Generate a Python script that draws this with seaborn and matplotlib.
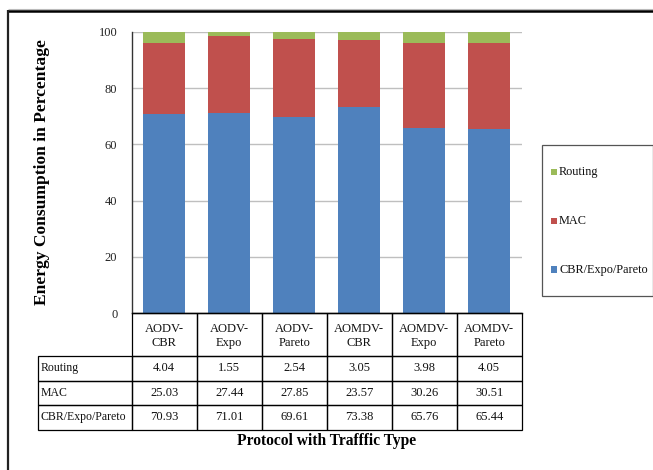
import matplotlib
matplotlib.use("Agg")
import matplotlib.pyplot as plt
from matplotlib.patches import Rectangle
import pandas as pd
import seaborn as sns

# ---- data -------------------------------------------------------------
protocols = ["AODV-\nCBR", "AODV-\nExpo", "AODV-\nPareto",
             "AOMDV-\nCBR", "AOMDV-\nExpo", "AOMDV-\nPareto"]
series_names = ["Routing", "MAC", "CBR/Expo/Pareto"]
routing = [4.04, 1.55, 2.54, 3.05, 3.98, 4.05]
mac = [25.03, 27.44, 27.85, 23.57, 30.26, 30.51]
traffic = [70.93, 71.01, 69.61, 73.38, 65.76, 65.44]
yticks = [0, 20, 40, 60, 80, 100]

colors = {"Routing": "#9BBB59", "MAC": "#C0504D", "CBR/Expo/Pareto": "#4F81BD"}

# ---- style ------------------------------------------------------------
sns.set_theme(style="white")
plt.rcParams["font.family"] = ["Liberation Serif", "DejaVu Serif"]

W, H = 653, 470
fig = plt.figure(figsize=(W / 100, H / 100), dpi=100)


def fx(px):
    return px / W


def fy(py):
    return 1 - py / H


# plot area (pixel geometry)
ax_l, ax_r, ax_t, ax_b = 131.7, 521.7, 31.7, 313.3
ax = fig.add_axes([fx(ax_l), fy(ax_b), fx(ax_r - ax_l), (ax_b - ax_t) / H])

df = pd.DataFrame({"protocol": protocols, "Routing": routing,
                   "MAC": mac, "CBR/Expo/Pareto": traffic})
df["lower"] = df["CBR/Expo/Pareto"]
df["middle"] = df["lower"] + df["MAC"]
df["upper"] = df["middle"] + df["Routing"]

# stacked bars: draw the cumulative totals from the top segment down
for col, name in [("upper", "Routing"), ("middle", "MAC"), ("lower", "CBR/Expo/Pareto")]:
    sns.barplot(data=df, x="protocol", y=col, color=colors[name], saturation=1,
                width=0.65, linewidth=0, ax=ax, zorder=2)

ax.set_xlim(-0.5, len(protocols) - 0.5)
ax.set_ylim(0, 100)
ax.set_yticks(yticks)
ax.set_yticklabels([str(t) for t in yticks])
ax.set_xticks([])
ax.set_xlabel("")
ax.set_ylabel("")
ax.yaxis.grid(True, color="#BFBFBF", linewidth=1.0, zorder=0)
ax.xaxis.grid(False)
ax.set_axisbelow(True)
for s in ["top", "right"]:
    ax.spines[s].set_visible(False)
ax.spines["left"].set_color("#333333")
ax.spines["left"].set_linewidth(1.0)
ax.spines["bottom"].set_color("black")
ax.spines["bottom"].set_linewidth(1.0)
ax.tick_params(axis="y", length=3.3, width=0.8, color="#8C8C8C", pad=7,
               labelsize=9, labelcolor="#222222")

# ---- overlay in pixel coordinates: data table, legend, outer frame -----
ov = fig.add_axes([0, 0, 1, 1], zorder=5)
ov.set_xlim(0, W)
ov.set_ylim(H, 0)
ov.axis("off")
ov.patch.set_visible(False)

col_edges = [ax_l + i * (ax_r - ax_l) / len(protocols) for i in range(len(protocols) + 1)]
row_edges = [ax_b, 356.0, 380.5, 405.0, 429.5]
label_left = 38.3
lw_tab = 0.9
fs_tab = 9

# header row with protocol / traffic names
for i, name in enumerate(protocols):
    x0, x1 = col_edges[i], col_edges[i + 1]
    ov.add_patch(Rectangle((x0, row_edges[0]), x1 - x0, row_edges[1] - row_edges[0],
                           fill=False, edgecolor="black", linewidth=lw_tab))
    ov.text((x0 + x1) / 2, (row_edges[0] + row_edges[1]) / 2 + 1, name,
            ha="center", va="center", fontsize=fs_tab, linespacing=1.2, color="#111111")

# value rows, top to bottom: Routing, MAC, CBR/Expo/Pareto
row_values = [routing, mac, traffic]
for r, (name, vals) in enumerate(zip(series_names, row_values)):
    y0, y1 = row_edges[r + 1], row_edges[r + 2]
    ov.add_patch(Rectangle((label_left, y0), col_edges[0] - label_left, y1 - y0,
                           fill=False, edgecolor="black", linewidth=lw_tab))
    ov.text(label_left + 2.0, (y0 + y1) / 2, name, ha="left", va="center",
            fontsize=8.5, color="#111111")
    for i, v in enumerate(vals):
        x0, x1 = col_edges[i], col_edges[i + 1]
        ov.add_patch(Rectangle((x0, y0), x1 - x0, y1 - y0,
                               fill=False, edgecolor="black", linewidth=lw_tab))
        ov.text((x0 + x1) / 2, (y0 + y1) / 2, f"{v:.2f}", ha="center", va="center",
                fontsize=fs_tab, color="#111111")

# legend box
lg_l, lg_t, lg_r, lg_b = 541.5, 145.0, 652.5, 296.0
ov.add_patch(Rectangle((lg_l, lg_t), lg_r - lg_l, lg_b - lg_t, facecolor="white",
                       edgecolor="#555555", linewidth=0.9))
for name, yc in zip(series_names, [172.0, 221.0, 269.5]):
    ov.add_patch(Rectangle((551.0, yc - 3.2), 6.4, 6.4, facecolor=colors[name],
                           edgecolor="none"))
    ov.text(559.0, yc, name, ha="left", va="center", fontsize=8.8, color="#111111")

# axis titles
ov.text((ax_l + ax_r) / 2, 441.0, "Protocol with Trafffic Type", ha="center",
        va="center", fontsize=11.2, fontweight="bold", color="black")
ov.text(42.0, (ax_t + ax_b) / 2, "Energy Consumption in Percentage", ha="center",
        va="center", rotation=90, fontsize=12.6, fontweight="bold", color="black")

# outer chart frame (runs off the right and bottom edges)
ov.plot([8.3, W + 5], [9.2, 9.2], color="#BBBBBB", linewidth=0.8, solid_capstyle="butt")
ov.plot([8.3, W + 5], [11.0, 11.0], color="black", linewidth=1.8, solid_capstyle="butt")
ov.plot([8.3, 8.3], [10.2, H + 5], color="#222222", linewidth=1.6, solid_capstyle="butt")

fig.savefig("out.png", dpi=100)
